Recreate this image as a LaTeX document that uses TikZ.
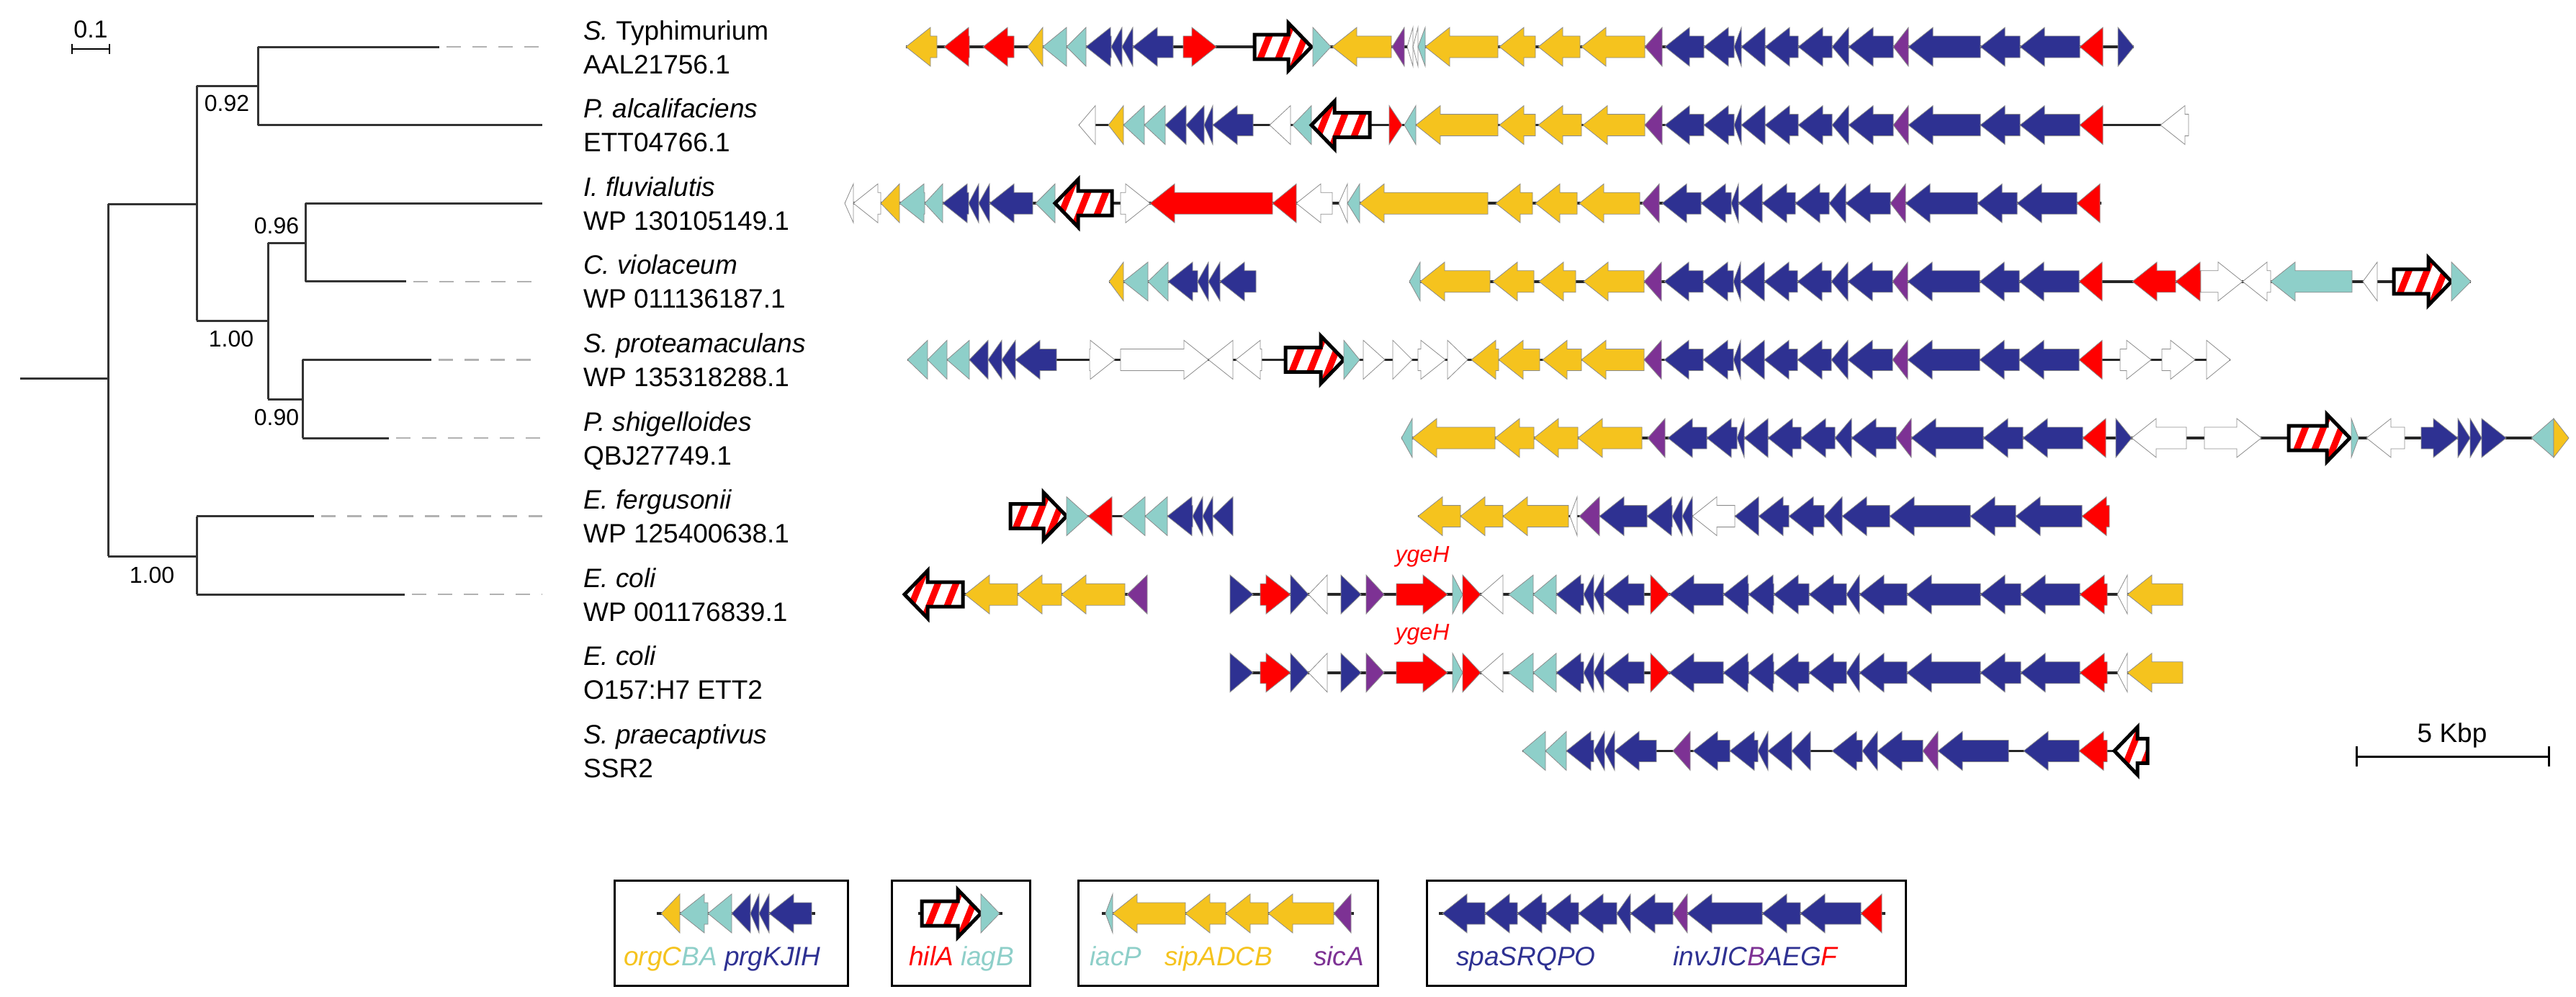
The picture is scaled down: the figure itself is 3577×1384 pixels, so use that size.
\documentclass[tikz,border=0pt]{standalone}
\usepackage{fontspec}
\setmainfont{Liberation Sans}
\definecolor{yl}{HTML}{F5C31E}
\definecolor{cy}{HTML}{8ECFC9}
\definecolor{bl}{HTML}{2E3192}
\definecolor{pu}{HTML}{7D3294}
\definecolor{rd}{HTML}{FF0000}
\definecolor{wh}{HTML}{FFFFFF}
\tikzset{
  gene/.style={draw=black!45,line width=0.8pt},
  bb/.style={line width=3.5pt,black!85},
  br/.style={line width=3pt,black!80},
  dsh/.style={line width=2.5pt,black!30,dash pattern=on 20pt off 16pt},
  lab/.style={font=\fontsize{37}{40}\selectfont,anchor=base west,inner sep=0pt},
  boot/.style={font=\fontsize{32}{36}\selectfont,inner sep=0pt},
  lbox/.style={line width=3pt,draw=black},
}
\newcommand\ry{0}
\newcommand\gn[3]{% color, tail, tip
  \pgfmathsetmacro\gL{abs(#3-(#2))}%
  \pgfmathsetmacro\gS{sign(#3-(#2))}%
  \pgfmathsetmacro\gH{min(\gL,34)}%
  \pgfmathsetmacro\gB{#3-\gS*\gH}%
  \filldraw[gene,fill=#1] (#2,\ry-15) -- (\gB,\ry-15) -- (\gB,\ry-27) -- (#3,\ry) -- (\gB,\ry+27) -- (\gB,\ry+15) -- (#2,\ry+15) -- cycle;}
\newcommand\gl[3]{\gn{#1}{#3}{#2}}
\newcommand\gr[3]{\gn{#1}{#2}{#3}}
\newcommand\hil[2]{% tail, tip
  \pgfmathsetmacro\gL{abs(#2-(#1))}%
  \pgfmathsetmacro\gS{sign(#2-(#1))}%
  \pgfmathsetmacro\gB{#2-\gS*32}%
  \pgfmathsetmacro\gC{(#1+#2)/2}%
  \fill[white] (#1,\ry-17) -- (\gB,\ry-17) -- (\gB,\ry-33) -- (#2,\ry) -- (\gB,\ry+33) -- (\gB,\ry+17) -- (#1,\ry+17) -- cycle;
  \begin{scope}
  \clip (#1,\ry-17) -- (\gB,\ry-17) -- (\gB,\ry-33) -- (#2,\ry) -- (\gB,\ry+33) -- (\gB,\ry+17) -- (#1,\ry+17) -- cycle;
  \foreach \k in {-4,...,4} \draw[rd,line width=9pt] ({\gC+\k*25-16},{\ry+40}) -- ({\gC+\k*25+16},{\ry-40});
  \end{scope}
  \draw[line width=5pt,line join=miter] (#1,\ry-17) -- (\gB,\ry-17) -- (\gB,\ry-33) -- (#2,\ry) -- (\gB,\ry+33) -- (\gB,\ry+17) -- (#1,\ry+17) -- cycle;}
\newcommand\core[1]{%
  \gl{pu}{#1+0}{#1+24}\gl{bl}{#1+28}{#1+82}\gl{bl}{#1+82}{#1+124}\gl{bl}{#1+124}{#1+134}%
  \gl{bl}{#1+134}{#1+167}\gl{bl}{#1+167}{#1+213}\gl{bl}{#1+213}{#1+260}\gl{bl}{#1+260}{#1+283}%
  \gl{bl}{#1+283}{#1+345}\gl{pu}{#1+345}{#1+366}\gl{bl}{#1+366}{#1+466}\gl{bl}{#1+466}{#1+521}%
  \gl{bl}{#1+521}{#1+604}\gl{rd}{#1+604}{#1+636}}
\newcommand\ecoli{%
  \draw[bb] (1708,\ry) -- (3031,\ry);
  \gr{bl}{1708}{1740}\gr{rd}{1750}{1792}\gr{bl}{1792}{1817}\gl{wh}{1817}{1843}\gr{bl}{1862}{1890}%
  \gr{pu}{1897}{1922}\gr{rd}{1939}{2010}\gr{cy}{2017}{2031}\gr{rd}{2031}{2056}\gl{wh}{2056}{2087}%
  \gl{cy}{2095}{2129}\gl{cy}{2129}{2161}\gl{bl}{2161}{2199}\gl{bl}{2199}{2213}\gl{bl}{2213}{2227}%
  \gl{bl}{2227}{2283}\gr{rd}{2292}{2318}\gl{bl}{2318}{2393}\gl{bl}{2393}{2428}\gl{bl}{2428}{2463}%
  \gl{bl}{2463}{2512}\gl{bl}{2512}{2564}\gl{bl}{2564}{2582}\gl{bl}{2582}{2648}\gl{bl}{2648}{2750}%
  \gl{bl}{2750}{2806}\gl{bl}{2806}{2888}\gl{rd}{2888}{2926}\gl{wh}{2940}{2954}\gl{yl}{2954}{3031}}
\begin{document}
\begin{tikzpicture}[x=1pt,y=-1pt]
\useasboundingbox (0,0) rectangle (3577,1384);
% ---------- tree ----------
\node[font=\fontsize{34}{36}\selectfont,anchor=base] (sc) at (126,52) {0.1};
\coordinate (s1) at (100,68); \coordinate (s2) at (152,68);
\draw[line width=2.5pt] (s1) -- (s2) (100,61) -- (100,75) (152,61) -- (152,75);
\draw[br] (28,525) -- (150,525) (150,283) -- (150,772)
  (150,283) -- (273,283) (273,119) -- (273,445)
  (273,119) -- (358,119) (358,65) -- (358,173.6)
  (358,65) -- (610,65) (358,173.6) -- (753,173.6)
  (273,445) -- (372,445) (372,337) -- (372,554)
  (372,337) -- (424,337) (424,282.2) -- (424,390.8)
  (424,282.2) -- (753,282.2) (424,390.8) -- (564,390.8)
  (372,554) -- (420,554) (420,499.4) -- (420,608)
  (420,499.4) -- (599,499.4) (420,608) -- (540,608)
  (150,772) -- (273,772) (273,716.6) -- (273,825.2)
  (273,716.6) -- (436,716.6) (273,825.2) -- (562,825.2);
\draw[dsh] (620,65) -- (753,65) (574,390.8) -- (753,390.8) (609,499.4) -- (753,499.4)
  (550,608) -- (753,608) (446,716.6) -- (753,716.6) (572,825.2) -- (753,825.2);
\node[boot] (b1) at (315,143) {0.92};
\node[boot] (b2) at (384,313) {0.96};
\node[boot] (b3) at (321,470) {1.00};
\node[boot] (b4) at (384,579) {0.90};
\node[boot] (b5) at (211,798) {1.00};
% ---------- labels ----------
\node[lab] (n1) at (810,55) {\textit{S.} Typhimurium};
\node[lab] (a1) at (810,102) {AAL21756.1};
\node[lab] (n2) at (810,163.6) {\textit{P. alcalifaciens}};
\node[lab] (a2) at (810,210.6) {ETT04766.1};
\node[lab] (n3) at (810,272.2) {\textit{I. fluvialutis}};
\node[lab] (a3) at (810,319.2) {WP 130105149.1};
\node[lab] (n4) at (810,380.8) {\textit{C. violaceum}};
\node[lab] (a4) at (810,427.8) {WP 011136187.1};
\node[lab] (n5) at (810,489.4) {\textit{S. proteamaculans}};
\node[lab] (a5) at (810,536.4) {WP 135318288.1};
\node[lab] (n6) at (810,598) {\textit{P. shigelloides}};
\node[lab] (a6) at (810,645) {QBJ27749.1};
\node[lab] (n7) at (810,706.6) {\textit{E. fergusonii}};
\node[lab] (a7) at (810,753.6) {WP 125400638.1};
\node[lab] (n8) at (810,815.2) {\textit{E. coli}};
\node[lab] (a8) at (810,862.2) {WP 001176839.1};
\node[lab] (n9) at (810,923.8) {\textit{E. coli}};
\node[lab] (a9) at (810,970.8) {O157:H7 ETT2};
\node[lab] (n10) at (810,1032.4) {\textit{S. praecaptivus}};
\node[lab] (a10) at (810,1079.4) {SSR2};
% ---------- row 1 ----------
\renewcommand\ry{65}
\draw[bb] (1258,\ry) -- (2963,\ry);
\gl{yl}{1258}{1301}\gl{rd}{1311}{1346}\gl{rd}{1365}{1408}\gl{yl}{1427}{1448}\gl{cy}{1448}{1481}
\gl{cy}{1481}{1508}\gl{bl}{1508}{1543}\gl{bl}{1543}{1558}\gl{bl}{1558}{1573}\gl{bl}{1573}{1629}
\gr{rd}{1643}{1689}\hil{1742}{1821}\gr{cy}{1823}{1848}\gl{yl}{1850}{1932}\gl{pu}{1933}{1950}
\gl{wh}{1954}{1962}\gl{wh}{1962}{1969}\gl{cy}{1969}{1979}\gl{yl}{1979}{2080}\gl{yl}{2082}{2132}
\gl{yl}{2136}{2194}\gl{yl}{2196}{2284}\core{2284}\gr{bl}{2941}{2963}
% ---------- row 2 ----------
\renewcommand\ry{173.6}
\draw[bb] (1498,\ry) -- (3039,\ry);
\gl{wh}{1498}{1521}\gl{yl}{1539}{1560}\gl{cy}{1560}{1589}\gl{cy}{1589}{1618}\gl{bl}{1618}{1647}
\gl{bl}{1647}{1672}\gl{bl}{1672}{1684}\gl{bl}{1684}{1740}\gl{wh}{1763}{1792}\gl{cy}{1795}{1821}
\hil{1902}{1821}\gr{rd}{1929}{1947}\gl{cy}{1950}{1966}\gl{yl}{1966}{2080}\gl{yl}{2082}{2132}
\gl{yl}{2136}{2196}\gl{yl}{2198}{2284}\core{2284}\gl{wh}{3000}{3039}
% ---------- row 3 ----------
\renewcommand\ry{282.2}
\draw[bb] (1173,\ry) -- (2918,\ry);
\gl{wh}{1173}{1185}\gl{wh}{1185}{1223}\gl{yl}{1223}{1249}\gl{cy}{1249}{1284}\gl{cy}{1284}{1309}
\gl{bl}{1309}{1345}\gl{bl}{1345}{1359}\gl{bl}{1359}{1374}\gl{bl}{1374}{1434}\gl{cy}{1438}{1465}
\hil{1544}{1465}\gr{wh}{1556}{1597}\gl{rd}{1597}{1767}\gl{rd}{1767}{1800}\gl{wh}{1800}{1850}
\gl{wh}{1859}{1871}\gl{cy}{1871}{1888}\gl{yl}{1888}{2066}\gl{yl}{2077}{2128}\gl{yl}{2132}{2190}
\gl{yl}{2193}{2277}\core{2280}
% ---------- row 4 ----------
\renewcommand\ry{390.8}
\draw[bb] (1540,\ry) -- (1744,\ry) (1957,\ry) -- (3431,\ry);
\gl{yl}{1540}{1560}\gl{cy}{1560}{1594}\gl{cy}{1594}{1622}\gl{bl}{1622}{1663}\gl{bl}{1663}{1678}
\gl{bl}{1678}{1694}\gl{bl}{1694}{1744}
\gl{cy}{1957}{1972}\gl{yl}{1972}{2069}\gl{yl}{2073}{2130}\gl{yl}{2137}{2188}\gl{yl}{2199}{2283}
\core{2283}\gl{rd}{2961}{3021}\gl{rd}{3021}{3056}\gr{wh}{3056}{3114}\gl{wh}{3114}{3153}
\gl{cy}{3153}{3266}\gl{wh}{3281}{3301}\hil{3324}{3404}\gr{cy}{3404}{3431}
% ---------- row 5 ----------
\renewcommand\ry{499.4}
\draw[bb] (1260,\ry) -- (3097,\ry);
\gl{cy}{1260}{1288}\gl{cy}{1288}{1315}\gl{cy}{1315}{1346}\gl{bl}{1346}{1372}\gl{bl}{1372}{1391}
\gl{bl}{1391}{1410}\gl{bl}{1410}{1467}\gr{wh}{1513}{1548}\gr{wh}{1556}{1678}\gl{wh}{1678}{1712}
\gl{wh}{1716}{1752}\hil{1785}{1866}\gr{cy}{1866}{1888}\gr{wh}{1893}{1923}\gr{wh}{1934}{1961}
\gr{wh}{1969}{2007}\gr{wh}{2010}{2038}\gl{yl}{2043}{2081}\gl{yl}{2081}{2138}\gl{yl}{2142}{2196}
\gl{yl}{2196}{2283}\core{2283}\gr{wh}{2944}{2987}\gr{wh}{3002}{3048}\gr{wh}{3064}{3097}
% ---------- row 6 ----------
\renewcommand\ry{608}
\draw[bb] (1946,\ry) -- (3565,\ry);
\gl{cy}{1946}{1961}\gl{yl}{1961}{2076}\gl{yl}{2076}{2130}\gl{yl}{2130}{2191}\gl{yl}{2191}{2280}
\core{2288}\gr{bl}{2938}{2960}\gl{wh}{2960}{3036}\gr{wh}{3061}{3140}\hil{3178}{3263}
\gr{cy}{3265}{3275}\gl{wh}{3286}{3339}\gr{bl}{3362}{3413}\gr{bl}{3413}{3430}\gr{bl}{3430}{3446}
\gr{bl}{3446}{3480}\gl{cy}{3515}{3546}\gr{yl}{3546}{3567}
% ---------- row 7 ----------
\renewcommand\ry{716.6}
\draw[bb] (1403,\ry) -- (1712,\ry) (1969,\ry) -- (2929,\ry);
\hil{1403}{1481}\gr{cy}{1481}{1511}\gl{rd}{1511}{1544}\gl{cy}{1558}{1590}\gl{cy}{1590}{1621}
\gl{bl}{1621}{1656}\gl{bl}{1656}{1670}\gl{bl}{1670}{1684}\gl{bl}{1684}{1712}
\gl{yl}{1969}{2028}\gl{yl}{2028}{2087}\gl{yl}{2087}{2178}\gl{wh}{2180}{2190}\gl{pu}{2193}{2221}
\gl{bl}{2221}{2287}\gl{bl}{2287}{2322}\gl{bl}{2322}{2336}\gl{bl}{2336}{2350}\gl{wh}{2350}{2409}
\gl{bl}{2409}{2442}\gl{bl}{2442}{2484}\gl{bl}{2484}{2533}\gl{bl}{2533}{2558}\gl{bl}{2558}{2624}
\gl{bl}{2624}{2736}\gl{bl}{2736}{2799}\gl{bl}{2799}{2891}\gl{rd}{2891}{2929}
% ---------- row 8 ----------
\renewcommand\ry{825.2}
\draw[bb] (1256,\ry) -- (1593,\ry);
\hil{1337}{1256}\gl{yl}{1340}{1413}\gl{yl}{1413}{1474}\gl{yl}{1474}{1562}\gl{pu}{1565}{1593}
\ecoli
\node[font=\fontsize{32}{36}\selectfont\itshape,text=rd] (y1) at (1975,773) {ygeH};
% ---------- row 9 ----------
\renewcommand\ry{933.8}
\ecoli
\node[font=\fontsize{32}{36}\selectfont\itshape,text=rd] (y2) at (1975,881) {ygeH};
% ---------- row 10 ----------
\renewcommand\ry{1042.4}
\draw[bb] (2114,\ry) -- (2982,\ry);
\gl{cy}{2114}{2146}\gl{cy}{2146}{2175}\gl{bl}{2175}{2213}\gl{bl}{2213}{2228}\gl{bl}{2228}{2242}
\gl{bl}{2242}{2300}\gl{pu}{2323}{2347}\gl{bl}{2351}{2402}\gl{bl}{2402}{2441}\gl{bl}{2441}{2455}
\gl{bl}{2455}{2488}\gl{bl}{2488}{2514}\gl{bl}{2544}{2586}\gl{bl}{2586}{2607}\gl{bl}{2607}{2670}
\gl{pu}{2670}{2691}\gl{bl}{2691}{2789}\gl{bl}{2810}{2887}\gl{rd}{2887}{2926}\hil{2982}{2936}
% ---------- 5 Kbp ----------
\node[font=\fontsize{37}{40}\selectfont] (kb) at (3405,1021) {5 Kbp};
\coordinate (k1) at (3272,1050); \coordinate (k2) at (3539,1050);
\draw[line width=3pt] (k1) -- (k2) (3272,1036) -- (3272,1064) (3539,1036) -- (3539,1064);
% ---------- legend ----------
\draw[lbox] (853,1222) rectangle (1177,1368);
\draw[lbox] (1238,1222) rectangle (1430,1368);
\draw[lbox] (1497,1222) rectangle (1913,1368);
\draw[lbox] (1981,1222) rectangle (2646,1368);
\renewcommand\ry{1268}
\draw[bb] (912,\ry) -- (1132,\ry) (1275,\ry) -- (1392,\ry) (1530,\ry) -- (1880,\ry) (1998,\ry) -- (2618,\ry);
\gl{yl}{918}{944}\gl{cy}{944}{983}\gl{cy}{983}{1016}\gl{bl}{1016}{1042}\gl{bl}{1042}{1054}
\gl{bl}{1054}{1068}\gl{bl}{1068}{1127}
\hil{1280}{1362}\gr{cy}{1362}{1388}
\gl{cy}{1535}{1545}\gl{yl}{1545}{1646}\gl{yl}{1646}{1702}\gl{yl}{1702}{1761}\gl{yl}{1761}{1852}
\gl{pu}{1852}{1876}
\gl{bl}{2003}{2062}\gl{bl}{2062}{2107}\gl{bl}{2107}{2147}\gl{bl}{2147}{2192}\gl{bl}{2192}{2245}
\gl{bl}{2245}{2264}\gl{bl}{2264}{2323}\gl{pu}{2323}{2343}\gl{bl}{2343}{2447}\gl{bl}{2447}{2500}
\gl{bl}{2500}{2584}\gl{rd}{2584}{2613}
\tikzset{lt/.style={font=\fontsize{37}{40}\selectfont\itshape,anchor=base west,inner sep=0pt}}
\node[lt] (t1) at (866,1340) {\textcolor{yl}{orgC}\textcolor{cy}{BA} \textcolor{bl}{prgKJIH}};
\node[lt] (t2) at (1262,1340) {\textcolor{rd}{hilA} \textcolor{cy}{iagB}};
\node[lt] (t3) at (1513,1340) {\textcolor{cy}{iacP}};
\node[lt] (t4) at (1617,1340) {\textcolor{yl}{sipADCB}};
\node[lt] (t5) at (1824,1340) {\textcolor{pu}{sicA}};
\node[lt] (t6) at (2022,1340) {\textcolor{bl}{spaSRQPO}};
\node[lt] (t7) at (2323,1340) {\textcolor{bl}{invJIC}\textcolor{pu}{B}\textcolor{bl}{AEG}\textcolor{rd}{F}};
\end{tikzpicture}
\end{document}
